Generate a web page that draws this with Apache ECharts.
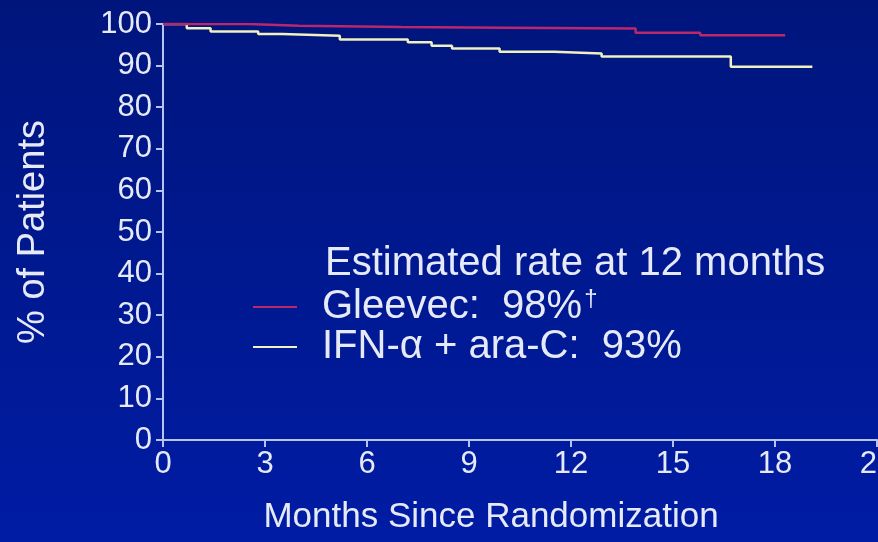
<!DOCTYPE html>
<html>
<head>
<meta charset="utf-8">
<script src="https://cdn.jsdelivr.net/npm/echarts@6/dist/echarts.min.js"></script>
<style>
html,body{margin:0;padding:0;width:878px;height:542px;overflow:hidden;background:#0018a0;}
#c{width:878px;height:542px;}
</style>
</head>
<body>
<div id="c"></div>
<script>
// ---- data ----
const xTicks = [0, 3, 6, 9, 12, 15, 18, 21];
const yTicks = [0, 10, 20, 30, 40, 50, 60, 70, 80, 90, 100];
const gleevecMonths = [0, 2.5, 4, 7, 10, 13.9, 15.8, 18.3];
const gleevecPct    = [100, 99.6, 99.3, 99.1, 98.9, 97.9, 97.3, 97.3];
const ifnMonths = [0, 0.7, 1.4, 2.8, 3.5, 5.2, 7.2, 7.9, 8.5, 9.9, 11.5, 12.9, 16.7, 19.1];
const ifnPct    = [100, 99.0, 98.2, 97.6, 97.2, 96.3, 95.6, 94.8, 94.1, 93.3, 92.9, 92.2, 89.7, 89.7];
const seriesNames = ['Gleevec:  98%', 'IFN-\u03b1 + ara-C:  93%'];
const seriesMarks = ['\u2020', ''];
const legendTitle = 'Estimated rate at 12 months';
const xTitle = 'Months Since Randomization';
const yTitle = '% of Patients';

const font = 'Liberation Sans, Arial, Helvetica, sans-serif';
const txt = '#e6eaf8';
const axisCol = '#b8c4f0';

const chart = echarts.init(document.getElementById('c'), null, {renderer: 'canvas'});
chart.setOption({
  backgroundColor: {
    type: 'linear', x: 0, y: 0, x2: 0, y2: 1,
    colorStops: [{offset: 0, color: '#00157c'}, {offset: 1, color: '#001ca4'}]
  },
  animation: false,
  title: {
    text: legendTitle, left: 320, top: 239,
    textStyle: {color: txt, fontFamily: font, fontSize: 40, fontWeight: 'normal'}
  },
  legend: {
    orient: 'vertical', left: 248, top: 282,
    itemWidth: 44, itemHeight: 2, itemGap: 0,
    icon: 'rect',
    formatter: name => {
      const i = seriesNames.indexOf(name);
      return seriesMarks[i] ? '{a|' + name + '}{s|' + seriesMarks[i] + '}' : '{a|' + name + '}';
    },
    textStyle: {
      color: txt, fontFamily: font, fontSize: 40, lineHeight: 40, padding: [0, 0, 0, 20],
      rich: {
        a: {color: txt, fontFamily: font, fontSize: 40, lineHeight: 40},
        s: {color: txt, fontFamily: font, fontSize: 24, lineHeight: 40, verticalAlign: 'top', padding: [0, 0, 14, 2]}
      }
    },
    data: seriesNames
  },
  grid: {left: 163, right: 1, top: 24, bottom: 102, containLabel: false, outerBoundsMode: 'none'},
  xAxis: {
    type: 'value', min: xTicks[0], max: xTicks[xTicks.length - 1], interval: 3,
    name: xTitle, nameLocation: 'middle', nameGap: 60,
    nameTextStyle: {color: txt, fontFamily: font, fontSize: 35, padding: [0, 58, 0, 0]},
    axisLine: {show: true, lineStyle: {color: axisCol, width: 2}},
    axisTick: {show: true, length: 7, lineStyle: {color: axisCol, width: 2}},
    axisLabel: {color: txt, fontFamily: font, fontSize: 31, margin: 9,
      formatter: v => xTicks.includes(v) ? String(v) : ''},
    splitLine: {show: false}
  },
  yAxis: {
    type: 'value', min: yTicks[0], max: yTicks[yTicks.length - 1], interval: 10,
    name: yTitle, nameLocation: 'middle', nameGap: 110, nameRotate: 90,
    nameTextStyle: {color: txt, fontFamily: font, fontSize: 38},
    axisLine: {show: true, lineStyle: {color: axisCol, width: 2}},
    axisTick: {show: true, length: 7, lineStyle: {color: axisCol, width: 2}},
    axisLabel: {color: txt, fontFamily: font, fontSize: 31, margin: 11},
    splitLine: {show: false}
  },
  series: [
    {
      name: seriesNames[0], type: 'line', step: 'end', symbol: 'none',
      lineStyle: {color: '#b8286a', width: 2.5}, itemStyle: {color: '#b8286a'},
      data: gleevecMonths.map((m, i) => [m, gleevecPct[i]]), z: 3
    },
    {
      name: seriesNames[1], type: 'line', step: 'end', symbol: 'none',
      lineStyle: {color: '#f0f0c0', width: 2.5}, itemStyle: {color: '#f0f0c0'},
      data: ifnMonths.map((m, i) => [m, ifnPct[i]]), z: 2
    }
  ]
});
</script>
</body>
</html>
